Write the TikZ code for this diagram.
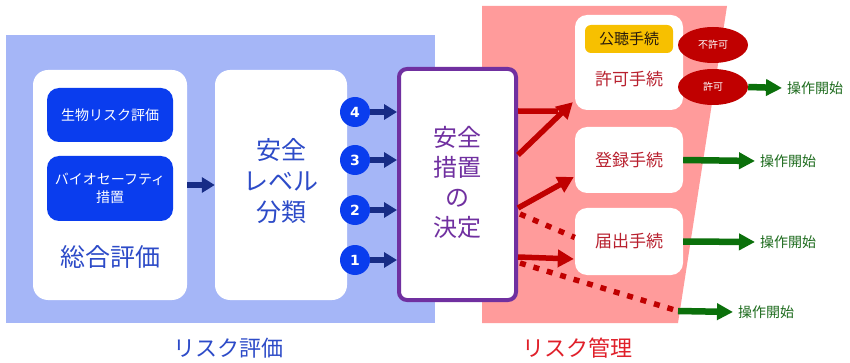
\documentclass[tikz,border=0pt]{standalone}
\usepackage{fontspec}
\setmainfont{Noto Sans CJK JP}
\newfontfamily\numfont{DejaVu Sans}
\usetikzlibrary{arrows.meta,shapes.geometric,calc}
\definecolor{bgblue}{HTML}{A5B6F7}
\definecolor{bgpink}{HTML}{FF9B9B}
\definecolor{boxblue}{HTML}{0A3DEE}
\definecolor{navy}{HTML}{172C86}
\definecolor{txtblue}{HTML}{2D4BC8}
\definecolor{purp}{HTML}{7030A0}
\definecolor{dred}{HTML}{C00000}
\definecolor{txtred}{HTML}{B8202E}
\definecolor{garrow}{HTML}{0B700B}
\definecolor{gtext}{HTML}{1D6B1D}
\definecolor{gold}{HTML}{F7C000}
\definecolor{lblred}{HTML}{E0202A}
\tikzset{
  whitebox/.style={fill=white, draw=none, rounded corners=15pt, inner sep=0pt},
  bluebox/.style={fill=boxblue, draw=none, rounded corners=12pt, text=white, align=center, inner sep=0pt, font=\fontsize{14}{18}\selectfont},
  numcirc/.style={circle, fill=boxblue, draw=none, minimum size=30pt, inner sep=0pt, text=white, font=\numfont\bfseries\fontsize{14}{14}\selectfont},
  navyarrow/.style={draw=navy, line width=6pt, -{Triangle[length=13pt,width=15pt]}},
  redarrow/.style={draw=dred, line width=5.5pt, -{Triangle[length=16pt,width=17pt]}},
  redline/.style={draw=dred, line width=5.5pt},
  reddots/.style={draw=dred, line width=5.5pt, dash pattern=on 6pt off 8pt},
  greenarrow/.style={draw=garrow, line width=6.5pt, -{Triangle[length=16pt,width=16pt]}},
  gotext/.style={text=gtext, anchor=west, inner sep=5pt, font=\fontsize{14}{14}\selectfont},
  procbox/.style={whitebox, rounded corners=12pt, minimum width=108pt, text=txtred, font=\fontsize{17}{17}\selectfont},
  redell/.style={ellipse, fill=dred, draw=none, minimum width=70pt, minimum height=36pt, inner sep=0pt, text=white, font=\fontsize{10}{10}\selectfont},
}
\begin{document}
\begin{tikzpicture}[x=1pt,y=-1pt]
\useasboundingbox[fill=white] (0,0) rectangle (850,363);
% backgrounds
\fill[bgblue] (6,35) rectangle (435,323);
\fill[bgpink] (482,6) -- (727,6) -- (678,323) -- (482,323) -- cycle;
% left: overall evaluation
\node[whitebox, minimum width=154pt, minimum height=230pt] (sogo) at (110,185) {};
\node[bluebox, minimum width=126pt, minimum height=54pt] (bio1) at (110,115) {生物リスク評価};
\node[bluebox, minimum width=126pt, minimum height=65pt] (bio2) at (110,188.5) {バイオセーフティ\\措置};
\node[text=txtblue, font=\fontsize{25}{25}\selectfont] (sogot) at (110,257) {総合評価};
% level classification
\node[whitebox, minimum width=132pt, minimum height=230pt] (lvl) at (281,185) {};
\node[text=txtblue, align=center, font=\fontsize{25}{31}\selectfont] (lvlt) at (281,181) {安全\\レベル\\分類};
\draw[navyarrow] (sogo.east) -- (lvl.west);
% decision box
\node[fill=white, draw=purp, line width=4pt, rounded corners=8pt, minimum width=117pt, minimum height=231pt] (dec) at (457.5,184.5) {};
\node[text=purp, align=center, font=\fontsize{24}{30}\selectfont] (dect) at (457.5,182) {安全\\措置\\の\\決定};
% numbered circles
\node[numcirc] (c4) at (355,112) {4};
\node[numcirc] (c3) at (355,160) {3};
\node[numcirc] (c2) at (355,210) {2};
\node[numcirc] (c1) at (355,260) {1};
\foreach \c in {c4,c3,c2,c1}{
  \draw[navyarrow] (\c.east) -- (\c.east -| dec.west);
}
% right side procedures
\node[procbox, minimum height=95pt] (kyoka) at (629,62.5) {};
\node[fill=gold, rounded corners=6pt, minimum width=88pt, minimum height=28pt, inner sep=0pt, text=black!80!brown, font=\fontsize{15}{15}\selectfont] (kocho) at (629,39) {公聴手続};
\node[text=txtred, font=\fontsize{17}{17}\selectfont] (kyokat) at (629,79) {許可手続};
\node[redell] (fuka) at (713,45) {不許可};
\node[redell] (ka) at (713,87) {許可};
\node[procbox, minimum height=66pt] (toroku) at (629,160) {登録手続};
\node[procbox, minimum height=67pt] (todoke) at (629,241.5) {届出手続};
% green arrows and labels
\node[gotext] (s1) at (782,88) {操作開始};
\node[gotext] (s2) at (755,161) {操作開始};
\node[gotext] (s3) at (755,242) {操作開始};
\node[gotext] (s4) at (733,312) {操作開始};
\draw[greenarrow] (ka.east) -- (s1.west);
\draw[greenarrow] (toroku.east) -- (s2.west);
\draw[greenarrow] (todoke.east) -- (s3.west);
\coordinate (dotend) at (678,311);
\draw[greenarrow] (dotend) -- (s4.west);
% red connectors
\coordinate (r1) at ($(dec.east)+(0,-73.5)$);
\coordinate (r2) at ($(dec.east)+(0,-29.5)$);
\coordinate (r3) at ($(dec.east)+(0,23.5)$);
\coordinate (r4) at ($(dec.east)+(2,29.5)$);
\coordinate (r5) at ($(dec.east)+(0,72.5)$);
\coordinate (r6) at ($(dec.east)+(2,78.5)$);
\coordinate (k1) at ($(kyoka.south west)+(-17,1)$);
\draw[redline] (r1) -- (k1);
\draw[redarrow] (r2) -- ($(kyoka.south west)+(-2,-8)$);
\draw[redarrow] (r3) -- ($(toroku.west)+(-1,17)$);
\draw[reddots] (r4) -- ($(todoke.west)+(0,-4)$);
\draw[redarrow] (r5) -- ($(todoke.west)+(-1,17.5)$);
\draw[reddots] (r6) -- (dotend);
% bottom labels
\node[text=txtblue, font=\fontsize{22}{22}\selectfont] (lbl1) at (228,348) {リスク評価};
\node[text=lblred, font=\fontsize{22}{22}\selectfont] (lbl2) at (577,348) {リスク管理};
\end{tikzpicture}
\end{document}
